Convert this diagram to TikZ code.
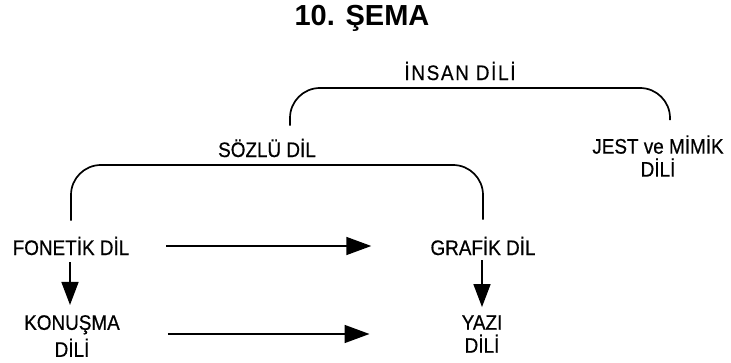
\documentclass[tikz,border=0pt]{standalone}
\usepackage{fontspec}
\setmainfont{Liberation Sans}
\usetikzlibrary{arrows.meta, positioning, calc}

\newcommand{\lblfont}[1]{\fontsize{21}{#1}\selectfont\addfontfeature{FakeStretch=0.9,FakeBold=0.6}}

\tikzset{
  lbl/.style={font=\lblfont{23}, align=center, inner sep=2pt},
  bracket/.style={line width=1.7pt, rounded corners=30pt},
  flow/.style={line width=1.6pt, -{Triangle[length=25pt, width=18pt]}},
  down/.style={line width=1.6pt, -{Triangle[length=23pt, width=17pt]}}
}

\begin{document}
\begin{tikzpicture}[x=1pt, y=-1pt]
    \useasboundingbox (0,0) rectangle (731,363);

    \node[font=\fontsize{29}{32}\selectfont\bfseries] (title) at (362,18) {10. ŞEMA};

    % --- top level ---
    \node[lbl, font=\lblfont{23}\addfontfeature{LetterSpace=8}] (insan) at (460,71) {İNSAN DİLİ};
    \node[lbl] (sozlu) at (267,148) {SÖZLÜ DİL};
    \node[lbl] (jest) at (658,156) {JEST ve MİMİK\\DİLİ};
    \coordinate (topbar) at (460,88);
    \draw[bracket, shorten <=11pt, shorten >=13pt]
      ([xshift=23pt]sozlu.north) |- (topbar) -| ([xshift=12pt]jest.north);

    % --- sözlü dil branches ---
    \node[lbl] (fonetik) at (71,246) {FONETİK DİL};
    \node[lbl] (grafik) at (483,246) {GRAFİK DİL};
    \coordinate (lowbar) at (270,165);
    \draw[bracket, shorten <=14pt, shorten >=15pt]
      (fonetik.north) |- (lowbar) -| (grafik.north);

    \node[lbl, font=\lblfont{27}] (konusma) at (72,336) {KONUŞMA\\DİLİ};
    \node[lbl] (yazi) at (482,334) {YAZI\\DİLİ};

    % --- arrows ---
    \draw[flow, shorten <=35pt, shorten >=57pt] (fonetik.east) -- (grafik.west);
    \draw[flow, shorten <=46pt, shorten >=90pt] (konusma.east |- 0,334) -- (yazi.west |- 0,334);
    \draw[down, shorten <=5pt, shorten >=8pt] (fonetik.south -| 70,0) -- (konusma.north -| 70,0);
    \draw[down, shorten <=3pt, shorten >=6pt] (grafik.south -| 482,0) -- (yazi.north -| 482,0);
\end{tikzpicture}
\end{document}
